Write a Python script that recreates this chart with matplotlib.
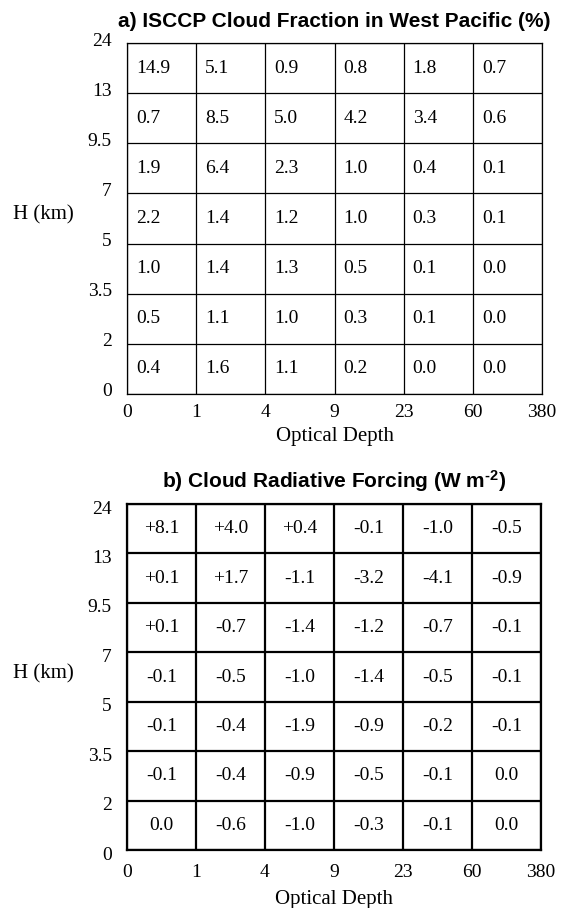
import matplotlib
matplotlib.use("Agg")
import matplotlib.pyplot as plt
import matplotlib.transforms as mtransforms
import numpy as np

plt.rcParams['mathtext.fontset'] = 'custom'
plt.rcParams['mathtext.rm'] = 'Liberation Sans:bold'
plt.rcParams['mathtext.it'] = 'Liberation Sans:bold'
plt.rcParams['mathtext.bf'] = 'Liberation Sans:bold'

# Bin edges
tau_edges = ['0', '1', '4', '9', '23', '60', '380']
h_edges = ['0', '2', '3.5', '5', '7', '9.5', '13', '24']

# Rows listed from top (13-24 km) to bottom (0-2 km)
cloud_fraction = [
    ['14.9', '5.1', '0.9', '0.8', '1.8', '0.7'],
    ['0.7', '8.5', '5.0', '4.2', '3.4', '0.6'],
    ['1.9', '6.4', '2.3', '1.0', '0.4', '0.1'],
    ['2.2', '1.4', '1.2', '1.0', '0.3', '0.1'],
    ['1.0', '1.4', '1.3', '0.5', '0.1', '0.0'],
    ['0.5', '1.1', '1.0', '0.3', '0.1', '0.0'],
    ['0.4', '1.6', '1.1', '0.2', '0.0', '0.0'],
]
cloud_forcing = [
    ['+8.1', '+4.0', '+0.4', '-0.1', '-1.0', '-0.5'],
    ['+0.1', '+1.7', '-1.1', '-3.2', '-4.1', '-0.9'],
    ['+0.1', '-0.7', '-1.4', '-1.2', '-0.7', '-0.1'],
    ['-0.1', '-0.5', '-1.0', '-1.4', '-0.5', '-0.1'],
    ['-0.1', '-0.4', '-1.9', '-0.9', '-0.2', '-0.1'],
    ['-0.1', '-0.4', '-0.9', '-0.5', '-0.1', '0.0'],
    ['0.0', '-0.6', '-1.0', '-0.3', '-0.1', '0.0'],
]

titles = ['a) ISCCP Cloud Fraction in West Pacific (%)',
          'b) Cloud Radiative Forcing (W m$^{\\text{-2}}$)']

W, H = 561, 908
fig = plt.figure(figsize=(W / 100, H / 100), dpi=100)

serif = 'Liberation Serif'
sans = 'Liberation Sans'

panels = [
    dict(rect=[127 / W, 1 - 394 / H, 415 / W, 351 / H], data=cloud_fraction,
         lw=0.9, align='left', ydy=4, xpad=7.2, lpad=4, tpad=11.5),
    dict(rect=[127 / W, 1 - 850 / H, 414 / W, 346 / H], data=cloud_forcing,
         lw=1.6, align='center', ydy=-3, xpad=10.2, lpad=6.6, tpad=12),
]

for p, title in zip(panels, titles):
    ax = fig.add_axes(p['rect'])
    ncol = len(tau_edges) - 1
    nrow = len(h_edges) - 1
    ax.set_xlim(0, ncol)
    ax.set_ylim(0, nrow)
    ax.set_xticks(np.arange(len(tau_edges)))
    ax.set_xticklabels(tau_edges, fontfamily=serif, fontsize=14)
    ax.set_yticks(np.arange(len(h_edges)))
    ax.set_yticklabels(h_edges, fontfamily=serif, fontsize=14)
    ax.tick_params(axis='both', length=0, pad=p['xpad'])
    ax.tick_params(axis='y', pad=11)
    ax.grid(True, color='black', lw=p['lw'])
    for s in ax.spines.values():
        s.set_linewidth(p['lw'])
        s.set_color('black')
    offset = mtransforms.ScaledTranslation(0, p['ydy'] / 100, fig.dpi_scale_trans)
    for lab in ax.get_yticklabels():
        lab.set_transform(lab.get_transform() + offset)
    for i, row in enumerate(p['data']):
        y = nrow - i - 0.5
        for j, v in enumerate(row):
            if p['align'] == 'left':
                ax.text(j + 0.13, y, v, ha='left', va='center',
                        fontfamily=serif, fontsize=14)
            else:
                ax.text(j + 0.5, y, v, ha='center', va='center',
                        fontfamily=serif, fontsize=14)
    ax.set_xlabel('Optical Depth', fontfamily=serif, fontsize=15, labelpad=p['lpad'])
    ax.set_ylabel('H (km)', fontfamily=serif, fontsize=15, rotation=0,
                  ha='center', va='center')
    ax.yaxis.set_label_coords(-0.202, 0.51)
    ax.set_title(title, fontfamily=sans, fontweight='bold', fontsize=15,
                 pad=p['tpad'])

fig.savefig('out.png', dpi=100)
